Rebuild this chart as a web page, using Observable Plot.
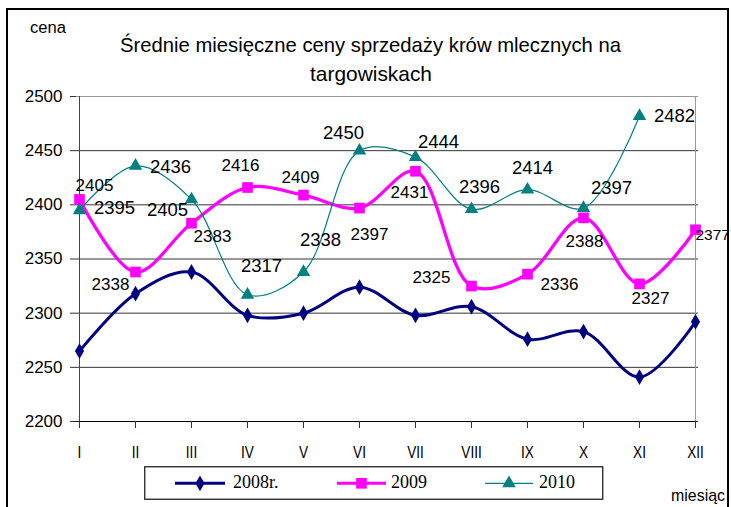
<!DOCTYPE html>
<html>
<head>
<meta charset="utf-8">
<script src="https://cdn.jsdelivr.net/npm/d3@7"></script>
<script src="https://cdn.jsdelivr.net/npm/@observablehq/plot@0.6"></script>
<style>
  body { margin: 0; background: #fff; }
  #wrap { position: relative; width: 731px; height: 507px; overflow: hidden; background: #fff; }
  #chart, #overlay, #legend { position: absolute; left: 0; top: 0; }
  #legend { left: 144px; top: 466px; }
  text { font-family: "Liberation Sans", Arial, sans-serif; }
</style>
</head>
<body>
<div id="wrap">
  <div id="chart"></div>
  <svg id="overlay" width="731" height="507">
    <path d="M7,530 V9 H728 V530" fill="none" stroke="#000" stroke-width="2"/>
    <text x="30" y="33" font-size="16" textLength="36" lengthAdjust="spacingAndGlyphs">cena</text>
    <text id="t1" x="370.5" y="52" font-size="21" text-anchor="middle" textLength="501" lengthAdjust="spacingAndGlyphs">Średnie miesięczne ceny sprzedaży krów  mlecznych na</text>
    <text id="t2" x="371" y="81" font-size="21" text-anchor="middle" textLength="122" lengthAdjust="spacingAndGlyphs">targowiskach</text>
    <text x="725" y="501" font-size="17" text-anchor="end" textLength="54" lengthAdjust="spacingAndGlyphs">miesiąc</text>
  </svg>
  <svg id="legend" width="461" height="35"></svg>
</div>
<script>
// ---- data ----
const months = ["I", "II", "III", "IV", "V", "VI", "VII", "VIII", "IX", "X", "XI", "XII"];
const price2008 = [2265, 2318, 2338, 2298, 2300, 2324, 2298, 2306, 2276, 2283, 2241, 2292];
const price2009 = [2405, 2338, 2383, 2416, 2409, 2397, 2431, 2325, 2336, 2388, 2327, 2377];
const price2010 = [2395, 2436, 2405, 2317, 2338, 2450, 2444, 2396, 2414, 2397, 2482, null];
const seriesNames = ["2008r.", "2009", "2010"];
const yTicks = [2200, 2250, 2300, 2350, 2400, 2450, 2500];

// ---- layout of value labels (pixel offsets from the point) ----
const labelOffset2009 = [[15, -14], [-25, 13], [21, 13], [-7, -22], [-3, -18], [10, 26], [-6, 21], [-40, -9], [32, 10], [1, 24], [11, 15], [0, 5]];
const labelOffset2010 = [[35, -2], [35, 1], [-24, 11], [14, -29], [17, -32], [-16, -18], [23, -15], [8, -22], [5, -22], [28, -20], [35, 0]];

const colors = ["#000080", "#ff00ff", "#008080"];

const rows = (vals) => months.map((m, i) => ({month: m, price: vals[i]})).filter(d => d.price != null);
const d2008 = rows(price2008), d2009 = rows(price2009), d2010 = rows(price2010);

const labelMarks = [];
d2009.forEach((d, i) => {
  const [dx, dy] = labelOffset2009[i];
  labelMarks.push(Plot.text([d], {x: "month", y: "price", text: d => String(d.price), dx, dy,
    fontSize: i === 11 ? 15.5 : 17, fill: "#000", textAnchor: i === 11 ? "start" : "middle", ariaLabel: i === 11 ? "lbl2009last" : "lbl2009"}));
});
d2010.forEach((d, i) => {
  const [dx, dy] = labelOffset2010[i];
  labelMarks.push(Plot.text([d], {x: "month", y: "price", text: d => String(d.price), dx, dy,
    fontSize: 18.5, fill: "#000", ariaLabel: "lbl2010"}));
});

const chart = Plot.plot({
  width: 731,
  height: 507,
  marginLeft: 76,
  marginRight: 33,
  marginTop: 96,
  marginBottom: 86,
  style: {fontFamily: "Liberation Sans, Arial, sans-serif", fontSize: "17px", color: "#000", background: "transparent"},
  x: {type: "point", domain: months, padding: 0, label: null},
  y: {domain: [2200, 2500], ticks: yTicks, label: null},
  marks: [
    Plot.ruleY(yTicks.slice(1, -1), {stroke: "#333", strokeWidth: 1}),
    Plot.ruleY([2500], {stroke: "#999", strokeWidth: 1}),
    Plot.ruleX([months[11]], {stroke: "#999", strokeWidth: 1}),
    Plot.ruleX([months[0]], {stroke: "#444", strokeWidth: 1}),
    Plot.ruleY([2200], {stroke: "#000", strokeWidth: 1.2}),
    Plot.axisY({ticks: yTicks, tickSize: 6, tickPadding: 8, fontSize: 17, tickFormat: d => String(d), stroke: "#333", label: null}),
    Plot.axisX({tickSize: 7, tickPadding: 17, fontSize: 17, stroke: "#333", label: null}),
    Plot.line(d2008, {x: "month", y: "price", curve: "catmull-rom", stroke: colors[0], strokeWidth: 3}),
    Plot.dot(d2008, {x: "month", y: "price", symbol: "diamond", r: 4.8, fill: colors[0], stroke: "none"}),
    Plot.line(d2009, {x: "month", y: "price", curve: "catmull-rom", stroke: colors[1], strokeWidth: 3.3}),
    Plot.dot(d2009, {x: "month", y: "price", symbol: "square", r: 6, fill: colors[1], stroke: "none"}),
    Plot.line(d2010, {x: "month", y: "price", curve: "catmull-rom", stroke: colors[2], strokeWidth: 1.2}),
    Plot.dot(d2010, {x: "month", y: "price", symbol: "triangle", r: 5, fill: colors[2], stroke: "none"}),
    ...labelMarks
  ]
});
document.getElementById("chart").appendChild(chart);

// condense text like the narrow original rendering
function condense(selector, factor, maxW) {
  chart.querySelectorAll(selector).forEach(t => {
    let w = t.getComputedTextLength() * factor;
    if (maxW) w = Math.min(w, maxW);
    t.setAttribute("textLength", w.toFixed(1));
    t.setAttribute("lengthAdjust", "spacingAndGlyphs");
  });
}
condense('g[aria-label="lbl2009"] text', 0.79);
condense('g[aria-label="lbl2009last"] text', 0.8, 26);
condense('g[aria-label="lbl2010"] text', 0.86);
condense('g[aria-label="x-axis tick label"] text', 0.8);

// legend
const lg = d3.select("#legend");
lg.append("rect").attr("x", 0.75).attr("y", 0.75).attr("width", 458).attr("height", 32.5)
  .attr("fill", "#fff").attr("stroke", "#222").attr("stroke-width", 1.3);
const legendItems = [
  {x0: 31, x1: 81, sym: d3.symbolDiamond, size: 72, sw: 3, tx: 89},
  {x0: 193, x1: 242, sym: d3.symbolSquare, size: 113, sw: 3, tx: 247},
  {x0: 341, x1: 389, sym: d3.symbolTriangle, size: 80, sw: 1.2, tx: 395}
];
legendItems.forEach((it, i) => {
  const cy = 17.3;
  lg.append("line").attr("x1", it.x0).attr("x2", it.x1).attr("y1", cy).attr("y2", cy)
    .attr("stroke", colors[i]).attr("stroke-width", it.sw);
  lg.append("path").attr("d", d3.symbol(it.sym, it.size)()).attr("transform", `translate(${(it.x0 + it.x1) / 2},${cy})`)
    .attr("fill", colors[i]);
  lg.append("text").attr("x", it.tx).attr("y", 21.5).attr("font-size", 18)
    .style("font-family", '"Liberation Serif", "Times New Roman", serif').text(seriesNames[i]);
});
</script>
</body>
</html>
